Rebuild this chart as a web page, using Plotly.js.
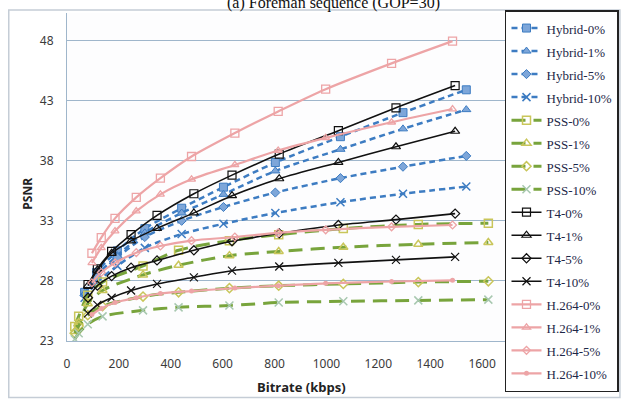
<!DOCTYPE html>
<html>
<head>
<meta charset="utf-8">
<script src="https://cdn.plot.ly/plotly-3.0.1.min.js"></script>
<style>html,body{margin:0;padding:0;background:#fff;}#chart{width:629px;height:401px;}</style>
</head>
<body>
<div id="chart"></div>
<script>
// ---- data ----
const seriesNames = ["Hybrid-0%","Hybrid-1%","Hybrid-5%","Hybrid-10%","PSS-0%","PSS-1%","PSS-5%","PSS-10%","T4-0%","T4-1%","T4-5%","T4-10%","H.264-0%","H.264-1%","H.264-5%","H.264-10%"];
const hybridBitrate = [68,114,194,300,442,603,803,1054,1295,1539];
const hybrid0  = [27.05,28.7,30.5,32.35,34.05,35.8,37.85,40.0,42.0,43.9];
const hybrid1  = [26.95,28.45,30.1,32.0,33.65,35.2,37.15,38.95,40.65,42.25];
const hybrid5  = [26.8,28.3,29.95,31.65,33.0,34.15,35.35,36.55,37.5,38.4];
const hybrid10 = [26.6,27.85,29.25,30.75,31.9,32.75,33.65,34.55,35.25,35.85];
const pssBitrate = [30,45,80,137,293,430,626,816,1065,1354,1624];
const pss0  = [24.2,25.05,26.8,27.9,29.25,30.55,31.35,31.85,32.35,32.7,32.8];
const pss1  = [23.8,24.55,26.1,27.2,28.5,29.3,30.1,30.45,30.8,31.05,31.2];
const pss5  = [23.65,24.25,25.15,25.9,26.7,27.05,27.4,27.6,27.75,27.9,27.97];
const pss10 = [23.15,23.65,24.4,25.05,25.55,25.8,25.95,26.2,26.3,26.38,26.44];
const t4Bitrate = [81,117,172,247,347,489,636,818,1046,1268,1496];
const t4_0  = [27.7,29.0,30.45,31.85,33.45,35.25,36.8,38.55,40.5,42.4,44.25];
const t4_1  = [27.6,28.9,30.3,31.33,32.37,33.66,35.09,36.5,37.86,39.16,40.45];
const t4_5  = [26.6,27.6,28.4,29.1,29.7,30.55,31.3,31.95,32.65,33.1,33.6];
const t4_10 = [25.3,26.0,26.6,27.2,27.75,28.3,28.85,29.2,29.5,29.75,30.0];
const h264Bitrate = [96,132,185,267,360,480,647,814,997,1251,1486];
const h264_0  = [30.3,31.6,33.2,34.95,36.55,38.35,40.3,42.1,43.95,46.1,47.95];
const h264_1  = [29.5,30.75,32.15,33.8,35.2,36.45,37.65,38.85,39.9,41.2,42.3];
const h264_5  = [27.85,28.7,29.5,30.35,30.9,31.35,31.65,32.0,32.25,32.5,32.65];
const h264_10 = [25.2,25.7,26.2,26.6,26.95,27.15,27.4,27.6,27.8,27.95,28.05];
const xTicks = [0,200,400,600,800,1000,1200,1400,1600];
const yTicks = [23,28,33,38,43,48];

// ---- styles ----
const blue='#3d7cc2', blueFill='#7da6d9', green='#78a43c', yellowish='#c9c65a', black='#111111', pink='#eda4a6';
function tr(name,x,y,line,marker){
  return {type:'scatter',mode:'lines+markers',name:'<span style="font-size:13px">'+name+'</span>',x:x,y:y,
    line:Object.assign({shape:'spline',smoothing:0.8},line),marker:marker};
}
const hybLine={color:blue,width:2.5,dash:'6px,4px'};
const pssLine={color:green,width:3,dash:'14px,8px'};
const t4Line={color:black,width:1.6};
const hLine={color:pink,width:2.2};
const traces=[
  tr(seriesNames[0],hybridBitrate,hybrid0,hybLine,{symbol:'square',size:8,color:blueFill,line:{color:blue,width:1}}),
  tr(seriesNames[1],hybridBitrate,hybrid1,hybLine,{symbol:'triangle-up',size:8,color:blueFill,line:{color:blue,width:1}}),
  tr(seriesNames[2],hybridBitrate,hybrid5,hybLine,{symbol:'diamond',size:7,color:blueFill,line:{color:blue,width:1}}),
  tr(seriesNames[3],hybridBitrate,hybrid10,hybLine,{symbol:'x-thin',size:8,color:blue,line:{color:blue,width:1.5}}),
  tr(seriesNames[4],pssBitrate,pss0,pssLine,{symbol:'square-open',size:8,color:yellowish,line:{width:1.5}}),
  tr(seriesNames[5],pssBitrate,pss1,pssLine,{symbol:'triangle-up-open',size:8,color:yellowish,line:{width:1.5}}),
  tr(seriesNames[6],pssBitrate,pss5,pssLine,{symbol:'diamond-open',size:7,color:yellowish,line:{width:1.5}}),
  tr(seriesNames[7],pssBitrate,pss10,pssLine,{symbol:'x-thin-open',size:8,color:'#a8c8b0',line:{color:'#a8c8b0',width:1.5}}),
  tr(seriesNames[8],t4Bitrate,t4_0,t4Line,{symbol:'square-open',size:8,color:black,line:{width:1.2}}),
  tr(seriesNames[9],t4Bitrate,t4_1,t4Line,{symbol:'triangle-up-open',size:8,color:black,line:{width:1.2}}),
  tr(seriesNames[10],t4Bitrate,t4_5,t4Line,{symbol:'diamond-open',size:7,color:black,line:{width:1.2}}),
  tr(seriesNames[11],t4Bitrate,t4_10,t4Line,{symbol:'x-thin-open',size:8,color:black,line:{color:black,width:1.2}}),
  tr(seriesNames[12],h264Bitrate,h264_0,hLine,{symbol:'square-open',size:8,color:pink,line:{width:1.3}}),
  tr(seriesNames[13],h264Bitrate,h264_1,hLine,{symbol:'triangle-up-open',size:7,color:pink,line:{width:1.3}}),
  tr(seriesNames[14],h264Bitrate,h264_5,hLine,{symbol:'diamond-open',size:6,color:pink,line:{width:1.3}}),
  tr(seriesNames[15],h264Bitrate,h264_10,hLine,{symbol:'circle',size:5,color:pink,line:{width:0}})
];
const grid='#9fb6cb';
const layout={
  width:629,height:401,
  margin:{l:67,r:89,t:10,b:60,pad:0},
  paper_bgcolor:'#ffffff',plot_bgcolor:'#fdfdfe',
  showlegend:true,
  xaxis:{range:[0,1800],tickvals:xTicks,ticktext:xTicks.map(String),showgrid:false,zeroline:false,
    showline:true,linecolor:grid,linewidth:1,ticks:'',ticklabelstandoff:12,automargin:false,
    tickfont:{family:'Noto Sans, sans-serif',size:12,color:'#3b3b3b'}},
  yaxis:{range:[23,50.29],tickvals:yTicks,ticktext:yTicks.map(String),showgrid:true,gridcolor:grid,gridwidth:1,
    zeroline:false,showline:true,linecolor:grid,linewidth:1,ticks:'',ticklabelstandoff:10,automargin:false,
    tickfont:{family:'Noto Sans, sans-serif',size:12,color:'#3b3b3b'}},
  legend:{x:1.182,y:1.009,xanchor:'right',yanchor:'top',bgcolor:'#ffffff',bordercolor:'#222222',borderwidth:1.5,
    font:{family:'Liberation Serif, serif',size:15.4,color:'#1d2747'},itemwidth:30,traceorder:'normal',
    maxheight:398},
  annotations:[
    {text:'(a) Foreman sequence (GOP=30)',xref:'paper',yref:'paper',x:0.57,y:1.03,xanchor:'center',yanchor:'middle',
      showarrow:false,font:{family:'Liberation Serif, serif',size:16,color:'#111'}},
    {text:'<b>PSNR</b>',xref:'paper',yref:'paper',x:-0.085,y:0.45,xanchor:'center',yanchor:'middle',textangle:-90,
      showarrow:false,font:{family:'Open Sans, sans-serif',size:12,color:'#222'}},
    {text:'<b>Bitrate (kbps)</b>',xref:'paper',yref:'paper',x:0.502,y:-0.139,xanchor:'center',yanchor:'middle',
      showarrow:false,font:{family:'Open Sans, sans-serif',size:13,color:'#222'}}
  ],
  shapes:[
    {type:'rect',xref:'paper',yref:'paper',x0:-0.1247,x1:1.184,y0:-0.172,y1:1.009,line:{color:'#c5cdd6',width:1.5},layer:'below'}
  ]
};
Plotly.newPlot('chart',traces,layout,{displayModeBar:false,staticPlot:true});
</script>
</body>
</html>
